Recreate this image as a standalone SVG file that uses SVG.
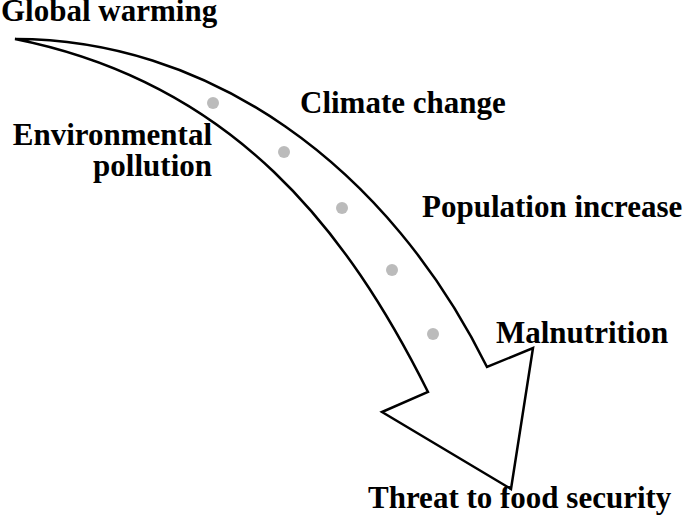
<svg xmlns="http://www.w3.org/2000/svg" width="685" height="517" viewBox="0 0 685 517">
<style>
.lbl{font-family:"Liberation Serif","Times New Roman",serif;font-weight:bold;font-size:31px;fill:#000}
.dot{fill:#bbbbbb}
.arrow{fill:#fff;stroke:#000;stroke-width:2.5;stroke-linejoin:miter}
</style>
<rect width="685" height="517" fill="#fff"/>
<g id="connectors">
<path class="arrow" d="M15,39 A554,689 0 0 1 487,367 L533,348 L511,489 L382,412 L428,392 C348,232 235,83 15,39 Z"/>
<circle class="dot" cx="213" cy="103" r="6"/>
<circle class="dot" cx="284" cy="152" r="6"/>
<circle class="dot" cx="342" cy="208" r="6"/>
<circle class="dot" cx="392" cy="270" r="6"/>
<circle class="dot" cx="433" cy="334" r="6"/>
</g>
<g id="global-warming"><text class="lbl" x="1" y="21">Global warming</text></g>
<g id="climate-change"><text class="lbl" x="300" y="113">Climate change</text></g>
<g id="environmental-pollution"><text class="lbl" x="212" y="145" text-anchor="end">Environmental</text><text class="lbl" x="212" y="176" text-anchor="end">pollution</text></g>
<g id="population-increase"><text class="lbl" x="422" y="217">Population increase</text></g>
<g id="malnutrition"><text class="lbl" x="496" y="343">Malnutrition</text></g>
<g id="threat"><text class="lbl" x="368" y="508">Threat to food security</text></g>
</svg>
